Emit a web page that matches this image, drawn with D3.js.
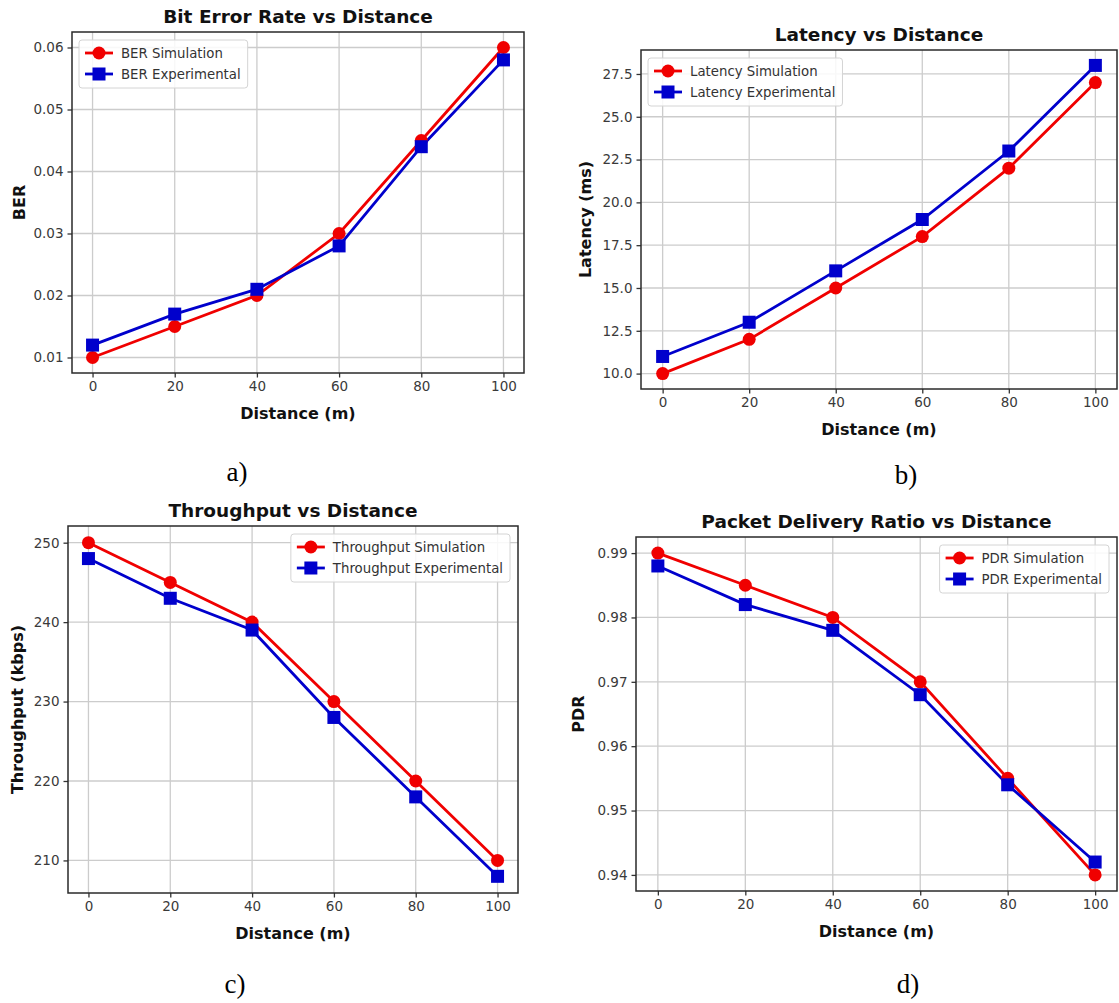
<!DOCTYPE html>
<html>
<head>
<meta charset="utf-8">
<script src="https://cdn.jsdelivr.net/npm/d3@7"></script>
<style>
  body { margin: 0; background: #fff; }
  svg { display: block; font-family: "DejaVu Sans", sans-serif; }
</style>
</head>
<body>
<svg id="chart" width="1119" height="1003"></svg>
<script>
// data
var distance = [0, 20, 40, 60, 80, 100];
var xTicks = [0, 20, 40, 60, 80, 100];

var berSim = [0.010, 0.015, 0.020, 0.030, 0.045, 0.060];
var berExp = [0.012, 0.017, 0.021, 0.028, 0.044, 0.058];
var berTicks = [0.01, 0.02, 0.03, 0.04, 0.05, 0.06];

var latSim = [10, 12, 15, 18, 22, 27];
var latExp = [11, 13, 16, 19, 23, 28];
var latTicks = [10.0, 12.5, 15.0, 17.5, 20.0, 22.5, 25.0, 27.5];

var thrSim = [250, 245, 240, 230, 220, 210];
var thrExp = [248, 243, 239, 228, 218, 208];
var thrTicks = [210, 220, 230, 240, 250];

var pdrSim = [0.990, 0.985, 0.980, 0.970, 0.955, 0.940];
var pdrExp = [0.988, 0.982, 0.978, 0.968, 0.954, 0.942];
var pdrTicks = [0.94, 0.95, 0.96, 0.97, 0.98, 0.99];

var red = "#f00000", blue = "#0000cc";

// panel layout (pixel boxes of each axes)
var panels = [
  {title: "Bit Error Rate vs Distance", ylabel: "BER", sim: berSim, exp: berExp,
   names: ["BER Simulation", "BER Experimental"], ticks: berTicks, fmt: d3.format(".2f"),
   box: {l: 72, r: 524, t: 32, b: 373}, legend: "left", ylabelX: 19, tag: "a)", tagX: 237, tagY: 481},
  {title: "Latency vs Distance", ylabel: "Latency (ms)", sim: latSim, exp: latExp,
   names: ["Latency Simulation", "Latency Experimental"], ticks: latTicks, fmt: d3.format(".1f"),
   box: {l: 641, r: 1117, t: 50, b: 389}, legend: "left", ylabelX: 585, tag: "b)", tagX: 906, tagY: 484},
  {title: "Throughput vs Distance", ylabel: "Throughput (kbps)", sim: thrSim, exp: thrExp,
   names: ["Throughput Simulation", "Throughput Experimental"], ticks: thrTicks, fmt: d3.format("d"),
   box: {l: 68, r: 518, t: 526, b: 893}, legend: "right", ylabelX: 17, tag: "c)", tagX: 235, tagY: 993},
  {title: "Packet Delivery Ratio vs Distance", ylabel: "PDR", sim: pdrSim, exp: pdrExp,
   names: ["PDR Simulation", "PDR Experimental"], ticks: pdrTicks, fmt: d3.format(".2f"),
   box: {l: 636, r: 1117, t: 537, b: 891}, legend: "right", ylabelX: 578, tag: "d)", tagX: 908, tagY: 993}
];

var svg = d3.select("#chart");

panels.forEach(function (p) {
  var b = p.box;
  // matplotlib style 5% margins
  var ext = d3.extent(p.sim.concat(p.exp));
  var pad = (ext[1] - ext[0]) * 0.05;
  var x = d3.scaleLinear().domain([-5, 105]).range([b.l, b.r]);
  var y = d3.scaleLinear().domain([ext[0] - pad, ext[1] + pad]).range([b.b, b.t]);

  var g = svg.append("g");

  // grid
  g.selectAll(".gx").data(xTicks).enter().append("line")
    .attr("x1", function (d) { return x(d); }).attr("x2", function (d) { return x(d); })
    .attr("y1", b.t).attr("y2", b.b)
    .attr("stroke", "#cccccc").attr("stroke-width", 1.3);
  g.selectAll(".gy").data(p.ticks).enter().append("line")
    .attr("y1", function (d) { return y(d); }).attr("y2", function (d) { return y(d); })
    .attr("x1", b.l).attr("x2", b.r)
    .attr("stroke", "#cccccc").attr("stroke-width", 1.3);

  // axes
  var xAxis = g.append("g")
    .attr("transform", "translate(0," + b.b + ")")
    .call(d3.axisBottom(x).tickValues(xTicks).tickSize(4.5).tickPadding(4));
  var yAxis = g.append("g")
    .attr("transform", "translate(" + b.l + ",0)")
    .call(d3.axisLeft(y).tickValues(p.ticks).tickFormat(p.fmt).tickSize(4.5).tickPadding(4));
  [xAxis, yAxis].forEach(function (a) {
    a.select(".domain").remove();
    a.selectAll(".tick line").attr("stroke", "#333").attr("stroke-width", 1.3);
    a.selectAll(".tick text").attr("fill", "#3a3a3a")
      .style("font-size", "13.5px").style("font-family", "DejaVu Sans");
  });

  // frame
  g.append("rect")
    .attr("x", b.l).attr("y", b.t).attr("width", b.r - b.l).attr("height", b.b - b.t)
    .attr("fill", "none").attr("stroke", "#2a2a2a").attr("stroke-width", 1.5);

  // series
  var line = d3.line()
    .x(function (d, i) { return x(distance[i]); })
    .y(function (d) { return y(d); });

  g.append("path").datum(p.sim)
    .attr("d", line).attr("fill", "none").attr("stroke", red).attr("stroke-width", 2.8);
  g.append("path").datum(p.exp)
    .attr("d", line).attr("fill", "none").attr("stroke", blue).attr("stroke-width", 2.8);

  g.selectAll(".sim").data(p.sim).enter().append("circle")
    .attr("cx", function (d, i) { return x(distance[i]); })
    .attr("cy", function (d) { return y(d); })
    .attr("r", 6.5).attr("fill", red);
  g.selectAll(".exp").data(p.exp).enter().append("rect")
    .attr("x", function (d, i) { return x(distance[i]) - 6.5; })
    .attr("y", function (d) { return y(d) - 6.5; })
    .attr("width", 13).attr("height", 13).attr("fill", blue);

  // titles and labels
  g.append("text")
    .attr("x", (b.l + b.r) / 2).attr("y", b.t - 9)
    .attr("text-anchor", "middle").attr("font-weight", "bold").attr("font-size", 18.5)
    .attr("fill", "#111").text(p.title);
  g.append("text")
    .attr("x", (b.l + b.r) / 2).attr("y", b.b + 46)
    .attr("text-anchor", "middle").attr("font-weight", "bold").attr("font-size", 16)
    .attr("fill", "#111").text("Distance (m)");
  g.append("text")
    .attr("transform", "translate(" + p.ylabelX + "," + ((b.t + b.b) / 2) + ") rotate(-90)")
    .attr("dy", "0.35em")
    .attr("text-anchor", "middle").attr("font-weight", "bold").attr("font-size", 16)
    .attr("fill", "#111").text(p.ylabel);

  // legend
  var lg = g.append("g");
  var txt = lg.selectAll("text").data(p.names).enter().append("text")
    .attr("font-size", 13.3).attr("fill", "#333").attr("dy", "0.35em")
    .text(function (d) { return d; });
  var tw = 0;
  txt.each(function () { tw = Math.max(tw, this.getComputedTextLength()); });
  var lw = 6 + 28 + 8 + tw + 7, lh = 48;
  var lx = p.legend === "left" ? b.l + 7 : b.r - 8 - lw;
  var ly = b.t + 8;
  lg.insert("rect", "text")
    .attr("x", lx).attr("y", ly).attr("width", lw).attr("height", lh)
    .attr("rx", 3).attr("fill", "#fff").attr("fill-opacity", 0.85)
    .attr("stroke", "#d4d4d4").attr("stroke-width", 1);
  var rows = [ly + 13, ly + 34];
  txt.attr("x", lx + 6 + 28 + 8).attr("y", function (d, i) { return rows[i]; });
  [red, blue].forEach(function (c, i) {
    lg.append("line")
      .attr("x1", lx + 6).attr("x2", lx + 34).attr("y1", rows[i]).attr("y2", rows[i])
      .attr("stroke", c).attr("stroke-width", 2.8);
  });
  lg.append("circle").attr("cx", lx + 20).attr("cy", rows[0]).attr("r", 6.5).attr("fill", red);
  lg.append("rect").attr("x", lx + 13.5).attr("y", rows[1] - 6.5)
    .attr("width", 13).attr("height", 13).attr("fill", blue);

  // subfigure tag
  svg.append("text")
    .attr("x", p.tagX).attr("y", p.tagY)
    .attr("text-anchor", "middle").attr("font-family", "Liberation Serif, serif")
    .attr("font-size", 27).attr("fill", "#000").text(p.tag);
});
</script>
</body>
</html>
